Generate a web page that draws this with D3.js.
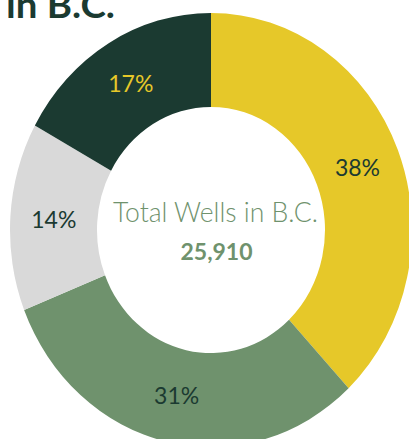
<!DOCTYPE html>
<html>
<head>
<meta charset="utf-8">
<script src="https://cdn.jsdelivr.net/npm/d3@7"></script>
<style>
  body { margin: 0; background: #fff; }
  svg { display: block; }
</style>
</head>
<body>
<svg id="chart"></svg>
<script>
const categories = ["Category A", "Category B", "Category C", "Category D"];
const shares = [38, 31, 14, 17];
const labels = ["38%", "31%", "14%", "17%"];
const colors = ["#E6C829", "#6F926D", "#D9D9D9", "#1B3A31"];
const labelColors = ["#1B3A31", "#1B3A31", "#1B3A31", "#E6C829"];
const centerTitle = "Total Wells in B.C.";
const centerValue = "25,910";

const width = 409, height = 439;
const cx = 211, cy = 230;
const outerR = 201, innerR = 114;
const yStretch = 1.08; // source image is a bit taller than wide

const svg = d3.select("#chart")
    .attr("width", width)
    .attr("height", height);

// title, cut off at the top like in the source
svg.append("text")
    .attr("x", 6)
    .attr("y", 18)
    .attr("textLength", 109)
    .attr("lengthAdjust", "spacingAndGlyphs")
    .style("font-family", "Lato, 'Open Sans', sans-serif")
    .style("font-weight", 700)
    .style("font-size", "36px")
    .style("fill", "#1B3A31")
    .text("in B.C.");

const pie = d3.pie().sort(null).value(d => d.value);
const arcs = pie(categories.map((c, i) => ({ name: c, value: shares[i], i: i })));

const arc = d3.arc().innerRadius(innerR).outerRadius(outerR);

const ring = svg.append("g")
    .attr("transform", `translate(${cx},${cy}) scale(1,${yStretch})`);

ring.selectAll("path")
    .data(arcs)
    .join("path")
        .attr("d", arc)
        .attr("fill", d => colors[d.data.i]);

const labelG = svg.append("g")
    .attr("transform", `translate(${cx},${cy})`);

labelG.selectAll("text")
    .data(arcs)
    .join("text")
        .attr("x", d => arc.centroid(d)[0])
        .attr("y", d => arc.centroid(d)[1] * yStretch)
        .attr("dy", "0.36em")
        .attr("text-anchor", "middle")
        .style("font-family", "Lato, sans-serif")
        .style("font-size", "23px")
        .style("fill", d => labelColors[d.data.i])
        .text(d => labels[d.data.i]);

svg.append("text")
    .attr("x", 113)
    .attr("y", 222)
    .attr("textLength", 205)
    .attr("lengthAdjust", "spacingAndGlyphs")
    .style("font-family", "Lato, sans-serif")
    .style("font-weight", 300)
    .style("font-size", "27px")
    .style("fill", "#6F926D")
    .text(centerTitle);

svg.append("text")
    .attr("x", 216.5)
    .attr("y", 260)
    .attr("text-anchor", "middle")
    .style("font-family", "Lato, sans-serif")
    .style("font-weight", 700)
    .style("font-size", "23px")
    .style("fill", "#6F926D")
    .text(centerValue);
</script>
</body>
</html>
